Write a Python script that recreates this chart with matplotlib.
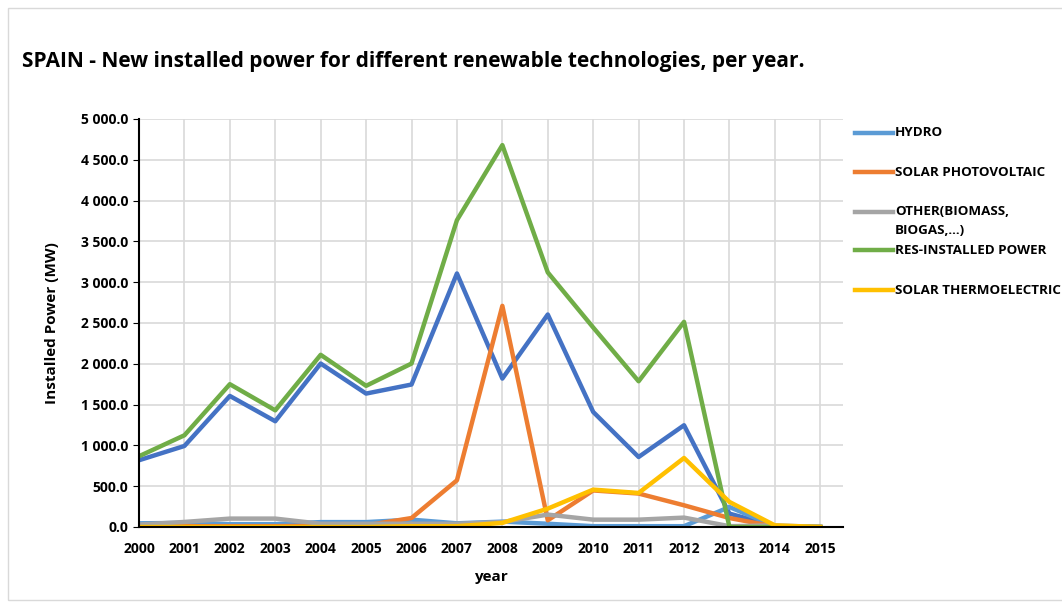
import numpy as np
import matplotlib.pyplot as plt
from matplotlib.patches import Rectangle
from matplotlib.lines import Line2D
from matplotlib.ticker import FuncFormatter

plt.rcParams['font.family'] = ['Open Sans', 'DejaVu Sans']

years = list(range(2000, 2016))

wind   = [818, 993, 1606, 1296, 2003, 1635, 1746, 3107, 1819, 2604, 1410, 858, 1247, 164, 10, 0]
hydro  = [45, 50, 35, 35, 60, 60, 90, 45, 66, 40, 10, 10, 10, 245, 10, 0]
pv     = [10, 10, 10, 10, 15, 20, 110, 572, 2710, 82, 448, 410, 266, 110, 5, 0]
other  = [30, 62, 103, 103, 40, 40, 40, 40, 60, 152, 90, 90, 115, 10, 20, 0]
res    = [867, 1124, 1750, 1430, 2110, 1730, 2003, 3760, 4680, 3120, 2445, 1786, 2514, 0, 0, 0]
thermo = [0, 0, 0, 0, 0, 0, 10, 10, 50, 225, 458, 417, 846, 307, 20, 0]

labels = ['HYDRO', 'SOLAR PHOTOVOLTAIC', 'OTHER(BIOMASS,\nBIOGAS,...)',
          'RES-INSTALLED POWER', 'SOLAR THERMOELECTRIC']
colors = ['#5B9BD5', '#ED7D31', '#A5A5A5', '#70AD47', '#FFC000']

W, H = 1062, 604
fig = plt.figure(figsize=(W / 100, H / 100), dpi=100)
fig.patches.append(Rectangle((8/W, 4/H), 1.1, 1 - 12/H, transform=fig.transFigure,
                             fill=False, edgecolor='#D9D9D9', linewidth=1))
ax = fig.add_axes([139/W, 77/H, 704/W, 408/H])

lw = 3.2
ax.plot(years, wind, color='#4472C4', linewidth=lw)
for vals, c in zip([hydro, pv, other, res, thermo], colors):
    ax.plot(years, vals, color=c, linewidth=lw)

ax.set_xlim(2000, 2015.5)
ax.set_ylim(0, 5000)
ax.set_xticks(years)
ax.set_yticks(np.arange(0, 5001, 500))
ax.yaxis.set_major_formatter(FuncFormatter(lambda v, p: '{:,.1f}'.format(v).replace(',', ' ')))
ax.grid(True, color='#D9D9D9', linewidth=1.2)
ax.set_axisbelow(True)
for s in ['top', 'right']:
    ax.spines[s].set_visible(False)
ax.spines['left'].set_linewidth(1.5)
ax.spines['bottom'].set_linewidth(1.5)
ax.tick_params(axis='x', length=0, pad=11, labelsize=10)
ax.tick_params(axis='y', length=4, labelsize=10)
for t in ax.get_xticklabels() + ax.get_yticklabels():
    t.set_fontweight('bold')

ax.set_xlabel('year', fontsize=11, fontweight='bold', labelpad=10)
ax.set_ylabel('Installed Power (MW)', fontsize=11, fontweight='bold', labelpad=16)

fig.text(22/W, 1 - 62/H, 'SPAIN - New installed power for different renewable technologies, per year.',
         fontsize=15, fontweight='bold', va='center', ha='left')

# legend, placed by hand like the Excel one
leg_y = [133, 172, 212, 250, 290]
for lab, c, yy in zip(labels, colors, leg_y):
    fy = 1 - yy / H
    fig.add_artist(Line2D([855/W, 893/W], [fy, fy], color=c, linewidth=lw,
                          transform=fig.transFigure))
    if '\n' in lab:
        fig.text(895/W, fy + 7/H, lab, fontsize=9.6, fontweight='bold', va='top',
                 ha='left', linespacing=1.55)
    else:
        fig.text(895/W, fy, lab, fontsize=9.6, fontweight='bold', va='center', ha='left')

fig.savefig('out.png', dpi=100)
